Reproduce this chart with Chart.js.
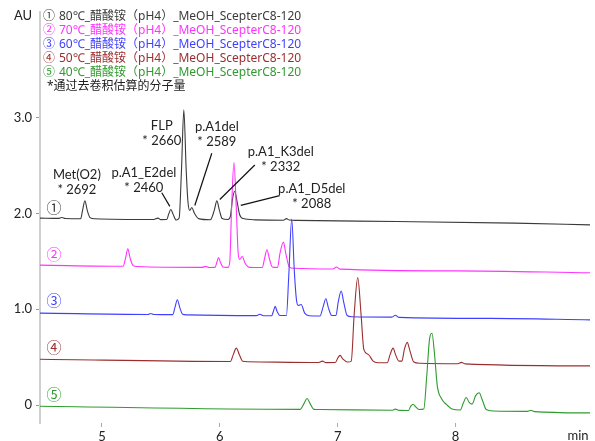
<!DOCTYPE html>
<html>
<head>
<meta charset="utf-8">
<script src="https://cdn.jsdelivr.net/npm/chart.js@4"></script>
<style>
html, body { margin: 0; padding: 0; background: #fff; }
</style>
</head>
<body>
<canvas id="myChart" width="595" height="441"></canvas>
<script>
const FONT = '"Noto Sans", "Noto Sans CJK SC", sans-serif';
const LABEL_FONT = 'Lato, "Noto Sans", sans-serif';

// traces: [time (min), absorbance (AU, with stacking offset)]
const trace80 = [
    [4.475, 1.950], [4.63, 1.947], [4.66, 1.957], [4.69, 1.946], [4.82, 1.944],
    [4.836, 2.03], [4.856, 2.13], [4.876, 2.03], [4.90, 1.955], [4.94, 1.943],
    [5.44, 1.935], [5.475, 1.950], [5.50, 1.934], [5.55, 1.935], [5.566, 1.99],
    [5.585, 2.04], [5.604, 1.99], [5.63, 1.93], [5.655, 1.95], [5.675, 2.45],
    [5.695, 3.08], [5.715, 2.45], [5.73, 2.12], [5.745, 2.03], [5.763, 2.06],
    [5.785, 2.00], [5.82, 1.945], [5.92, 1.933], [5.953, 2.03], [5.975, 2.13],
    [5.997, 2.03], [6.02, 1.945], [6.07, 1.935], [6.09, 1.97], [6.108, 2.15],
    [6.127, 2.23], [6.147, 2.12], [6.167, 1.99], [6.20, 1.945], [6.30, 1.932],
    [6.54, 1.928], [6.565, 1.945], [6.59, 1.93], [6.65, 1.926], [7.5, 1.915],
    [8.5, 1.898], [9.14, 1.88]
];
const trace70 = [
    [4.475, 1.46], [5.18, 1.448], [5.20, 1.53], [5.22, 1.63], [5.24, 1.53],
    [5.265, 1.455], [5.30, 1.446], [5.85, 1.437], [5.88, 1.447], [5.91, 1.436],
    [5.96, 1.437], [5.975, 1.49], [5.99, 1.54], [6.005, 1.49], [6.03, 1.438],
    [6.07, 1.437], [6.085, 1.50], [6.10, 2.05], [6.12, 2.53], [6.14, 2.05],
    [6.155, 1.60], [6.168, 1.52], [6.19, 1.55], [6.215, 1.48], [6.25, 1.437],
    [6.36, 1.435], [6.38, 1.53], [6.40, 1.62], [6.42, 1.53], [6.445, 1.44],
    [6.49, 1.435], [6.51, 1.58], [6.54, 1.70], [6.56, 1.58], [6.59, 1.44],
    [6.63, 1.427], [6.96, 1.42], [6.99, 1.44], [7.02, 1.418], [8.0, 1.40],
    [9.14, 1.38]
];
const trace60 = [
    [4.475, 0.96], [5.39, 0.946], [5.415, 0.956], [5.44, 0.946], [5.60, 0.944],
    [5.62, 1.02], [5.64, 1.10], [5.66, 1.02], [5.685, 0.948], [5.72, 0.942],
    [6.31, 0.934], [6.34, 0.948], [6.37, 0.933], [6.44, 0.933], [6.455, 0.98],
    [6.47, 1.03], [6.485, 0.98], [6.51, 0.935], [6.565, 0.935], [6.585, 1.35],
    [6.61, 1.94], [6.632, 1.40], [6.65, 1.10], [6.665, 1.04],
    [6.69, 1.05], [6.72, 0.96], [6.76, 0.933], [6.85, 0.93], [6.875, 1.02],
    [6.90, 1.11], [6.92, 1.02], [6.95, 0.935], [6.985, 0.935], [7.005, 1.08],
    [7.03, 1.19], [7.05, 1.08], [7.08, 0.935], [7.12, 0.922], [7.46, 0.918],
    [7.49, 0.938], [7.52, 0.916], [8.3, 0.905], [9.14, 0.89]
];
const trace50 = [
    [4.475, 0.48], [6.09, 0.456], [6.115, 0.53], [6.14, 0.595], [6.165, 0.53],
    [6.195, 0.458], [6.24, 0.454], [6.84, 0.445], [6.87, 0.46], [6.90, 0.444],
    [6.98, 0.445], [7.0, 0.49], [7.02, 0.52], [7.045, 0.48], [7.085, 0.45],
    [7.115, 0.46], [7.14, 0.95], [7.17, 1.33], [7.198, 0.95], [7.222, 0.58],
    [7.26, 0.53], [7.30, 0.46], [7.34, 0.443], [7.42, 0.443], [7.445, 0.53],
    [7.47, 0.595], [7.49, 0.53], [7.52, 0.46], [7.545, 0.46], [7.565, 0.58],
    [7.59, 0.655], [7.61, 0.58], [7.645, 0.45], [7.70, 0.437], [8.02, 0.432],
    [8.05, 0.447], [8.08, 0.431], [9.14, 0.41]
];
const trace40 = [
    [4.475, -0.01], [6.68, -0.043], [6.715, 0.02], [6.74, 0.07], [6.765, 0.02],
    [6.80, -0.043], [6.85, -0.045], [7.46, -0.052], [7.49, -0.04], [7.52, -0.053],
    [7.60, -0.054], [7.62, -0.01], [7.64, 0.01], [7.66, -0.015], [7.69, -0.045],
    [7.73, -0.04], [7.755, 0.30], [7.78, 0.70], [7.80, 0.75], [7.82, 0.55],
    [7.845, 0.20], [7.88, 0.07], [7.92, 0.01], [7.97, -0.04], [8.04, -0.05],
    [8.065, 0.02], [8.09, 0.08], [8.115, 0.03], [8.14, 0.012], [8.17, 0.10],
    [8.20, 0.13], [8.225, 0.06], [8.26, -0.045], [8.32, -0.06], [8.61, -0.064],
    [8.64, -0.052], [8.67, -0.066], [9.14, -0.08]
];

const seriesLabels = [
    '80℃_醋酸铵（pH4）_MeOH_ScepterC8-120',
    '70℃_醋酸铵（pH4）_MeOH_ScepterC8-120',
    '60℃_醋酸铵（pH4）_MeOH_ScepterC8-120',
    '50℃_醋酸铵（pH4）_MeOH_ScepterC8-120',
    '40℃_醋酸铵（pH4）_MeOH_ScepterC8-120'
];
const circled = ['①', '②', '③', '④', '⑤'];
const colors = ['#3a3a3a', '#ff33ff', '#3f3fff', '#9a2e2e', '#2f9a2f'];
const traces = [trace80, trace70, trace60, trace50, trace40];

// trace number markers: [time, AU]
const markerPos = [[4.593, 2.05], [4.593, 1.56], [4.593, 1.077], [4.593, 0.585], [4.593, 0.103]];

// peak annotations (text centre in time / AU, leader line from -> to)
const annNames = ['Met(O2)', 'p.A1_E2del', 'FLP', 'p.A1del', 'p.A1_K3del', 'p.A1_D5del'];
const annMw = ['* 2692', '* 2460', '* 2660', '* 2589', '* 2332', '* 2088'];
const annTime = [4.788, 5.356, 5.508, 5.975, 6.517, 6.78];
const annAU = [2.40, 2.42, 2.913, 2.903, 2.636, 2.256];
const annLines = [
    null,
    [5.508, 2.215, 5.576, 2.072],
    null,
    [5.932, 2.626, 5.788, 2.082],
    [6.297, 2.503, 6.0, 2.144],
    [6.508, 2.185, 6.178, 2.082]
];

const xTicks = [5, 6, 7, 8];
const yTicks = [0, 1, 2, 3];

const overlay = {
    id: 'overlay',
    afterDraw(chart) {
        const ctx = chart.ctx;
        const xs = chart.scales.x, ys = chart.scales.y;
        ctx.save();
        ctx.textBaseline = 'middle';

        // AU and min labels
        ctx.fillStyle = '#222';
        ctx.font = '13px ' + LABEL_FONT;
        ctx.textAlign = 'left';
        ctx.fillText('AU', 14, 16);
        ctx.textAlign = 'center';
        ctx.fillText('min', 578, 436);

        // legend block
        ctx.font = '12px ' + FONT;
        seriesLabels.forEach((t, i) => {
            ctx.fillStyle = colors[i];
            ctx.textAlign = 'left';
            ctx.fillText(circled[i], 43, 17 + i * 14);
            ctx.fillText(t, 59, 17 + i * 14);
        });
        ctx.fillStyle = '#222';
        ctx.fillText('*通过去卷积估算的分子量', 47, 87);

        // trace markers
        ctx.font = '15px ' + FONT;
        ctx.textAlign = 'center';
        markerPos.forEach((p, i) => {
            ctx.fillStyle = colors[i];
            ctx.fillText(circled[i], xs.getPixelForValue(p[0]), ys.getPixelForValue(p[1]));
        });

        // peak labels
        ctx.font = '13px ' + LABEL_FONT;
        ctx.fillStyle = '#222';
        annNames.forEach((n, i) => {
            const px = xs.getPixelForValue(annTime[i]);
            const py = ys.getPixelForValue(annAU[i]);
            ctx.fillText(n, px, py);
            ctx.fillText(annMw[i], px, py + 15);
        });
        ctx.strokeStyle = '#111';
        ctx.lineWidth = 1.2;
        annLines.forEach(l => {
            if (!l) return;
            ctx.beginPath();
            ctx.moveTo(xs.getPixelForValue(l[0]), ys.getPixelForValue(l[1]));
            ctx.lineTo(xs.getPixelForValue(l[2]), ys.getPixelForValue(l[3]));
            ctx.stroke();
        });
        ctx.restore();
    }
};

new Chart(document.getElementById('myChart'), {
    type: 'line',
    data: {
        datasets: traces.map((d, i) => ({
            label: seriesLabels[i],
            data: d,
            borderColor: colors[i],
            borderWidth: 1.1,
            pointRadius: 0,
            fill: false,
            cubicInterpolationMode: 'monotone',
            order: 5 - i
        }))
    },
    options: {
        responsive: false,
        animation: false,
        layout: { padding: { top: 5, right: 5, left: 0, bottom: 0 } },
        plugins: { legend: { display: false }, tooltip: { enabled: false } },
        scales: {
            x: {
                type: 'linear',
                min: 4.475,
                max: 9.14,
                afterBuildTicks: axis => { axis.ticks = xTicks.map(v => ({ value: v })); },
                afterFit: axis => { axis.height = 18; },
                border: { display: false },
                grid: { drawOnChartArea: false, tickLength: 4, color: '#aaa' },
                ticks: { padding: 2, color: '#222', font: { family: LABEL_FONT, size: 13 }, maxRotation: 0 }
            },
            y: {
                min: -0.185,
                max: 4.10,
                afterBuildTicks: axis => { axis.ticks = yTicks.map(v => ({ value: v })); },
                afterFit: axis => { axis.width = 40; },
                border: { display: true, color: '#cfcfcf', width: 2 },
                grid: { drawOnChartArea: false, tickLength: 4, color: '#999' },
                ticks: {
                    padding: 4,
                    color: '#222',
                    font: { family: LABEL_FONT, size: 13 },
                    callback: v => v === 0 ? '0' : v.toFixed(1)
                }
            }
        }
    },
    plugins: [overlay]
});
</script>
</body>
</html>
